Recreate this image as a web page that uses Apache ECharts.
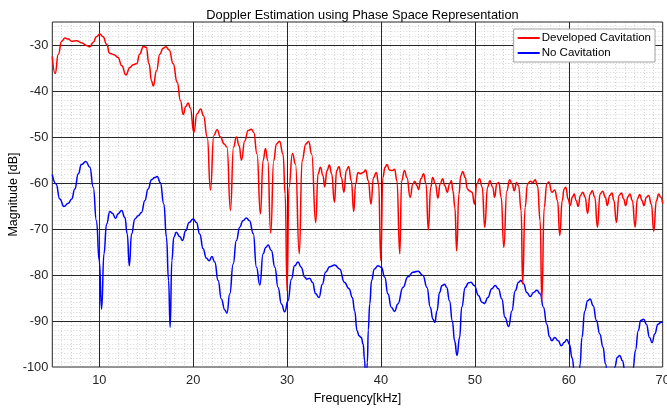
<!DOCTYPE html>
<html>
<head>
<meta charset="utf-8">
<script src="https://cdn.jsdelivr.net/npm/echarts@6/dist/echarts.min.js"></script>
<style>html,body{margin:0;padding:0;background:#fff}#c{width:667px;height:408px}</style>
</head>
<body>
<div id="c"></div>
<script>
const titleText = 'Doppler Estimation using Phase Space Representation';
const xName = 'Frequency[kHz]';
const yName = 'Magnitude [dB]';
const seriesNames = ['Developed Cavitation', 'No Cavitation'];

const redFreq = [5.0,5.3,5.64,6.0,6.35,6.7,7.06,7.6,8.1,8.65,9.0,9.36,9.7,10.07,10.4,10.8,11.1,11.56,12.0,12.4,12.84,13.26,13.6,14.0,14.3,14.7,15.0,15.3,15.57,15.75,16.1,16.45,16.8,17.1,17.45,17.87,18.3,18.65,18.94,19.2,19.47,19.7,20.07,20.4,20.8,21.1,21.5,21.84,22.2,22.55,22.9,23.3,23.6,23.97,24.3,24.6,24.9,25.14,25.5,25.85,26.2,26.45,26.8,27.16,27.45,27.7,27.94,28.26,28.58,28.87,29.2,29.57,29.8,30.0,30.2,30.57,30.9,31.3,31.6,32.0,32.3,32.62,33.05,33.3,33.55,33.83,34.0,34.26,34.5,34.75,35.04,35.28,35.53,35.78,36.06,36.3,36.56,36.84,37.1,37.3,37.55,37.8,38.1,38.37,38.65,38.94,39.2,39.5,39.75,39.98,40.2,40.43,40.64,40.9,41.2,41.45,41.7,42.0,42.2,42.5,42.77,43.1,43.4,43.6,43.83,44.0,44.25,44.54,44.8,45.04,45.3,45.5,45.8,46.06,46.3,46.56,46.8,47.06,47.3,47.5,47.66,47.87,48.06,48.3,48.5,48.7,48.97,49.2,49.4,49.7,49.96,50.2,50.5,50.78,51.05,51.35,51.6,51.9,52.1,52.34,52.55,52.8,53.08,53.4,53.7,53.97,54.2,54.43,54.65,54.93,55.08,55.35,55.6,55.9,56.17,56.42,56.67,56.95,57.13,57.38,57.66,57.87,58.2,58.5,58.8,59.04,59.3,59.5,59.68,59.93,60.14,60.4,60.57,60.78,61.0,61.24,61.5,61.74,62.0,62.27,62.5,62.77,63.05,63.33,63.6,63.9,64.1,64.36,64.6,64.8,65.07,65.35,65.6,65.85,66.06,66.3,66.5,66.77,67.06,67.3,67.55,67.8,68.0,68.26,68.5,68.8,69.04,69.33,69.57,69.8,70.0];
const redMag = [-32.5,-36.2,-32,-29.2,-28.5,-28.7,-29.2,-29.1,-29.5,-30.1,-30.4,-29.4,-28.2,-27.6,-28.2,-29.9,-31.8,-32.1,-32.7,-34.5,-36.5,-34.9,-34.3,-34,-32,-30.3,-30.5,-34.1,-37.8,-38.9,-35.6,-32,-30.7,-30.4,-31.1,-34.1,-38.1,-42.1,-45.1,-43.4,-42.6,-43.7,-49,-45,-43.9,-45.4,-50,-61.5,-49.7,-48.4,-50,-51.5,-52.2,-65.9,-52.2,-50,-51.9,-55,-50.8,-48.6,-48.3,-49,-53.7,-66.7,-55.1,-52.5,-55.1,-70.9,-55.1,-51.5,-50.9,-53.7,-62.4,-83.5,-61,-53.6,-55.9,-75.4,-55.1,-51.5,-51,-53.7,-68.6,-58,-56.6,-58.4,-60.8,-57.3,-56.1,-58,-64.2,-57.3,-56.4,-58.8,-62,-57.3,-56.4,-59.5,-66.2,-60.2,-57.7,-58,-57.7,-57.2,-59.5,-64.6,-58.8,-57.7,-60.2,-76.9,-58.8,-56.6,-56,-57.2,-57.3,-57,-59.5,-75.4,-59.5,-57.3,-58.8,-63.1,-60.2,-59.6,-60.6,-61.4,-59.1,-58,-60.2,-70.2,-60.9,-58.8,-60.2,-63.3,-60.2,-59.1,-60.6,-62,-60.2,-59.5,-61.7,-65.3,-74.8,-62.4,-58.4,-57.5,-58.8,-61.3,-61.7,-62,-64.6,-60.2,-59.1,-60.9,-69.6,-60.9,-59.5,-60.9,-63.1,-60.1,-59.9,-63.1,-74,-61.7,-59.3,-60.2,-61.7,-59.9,-60.6,-66,-82,-65.3,-60.2,-59.6,-59.9,-59.3,-60.6,-68.2,-85.6,-65.3,-60.2,-59.8,-62,-61.5,-63.8,-71.4,-63.8,-61.3,-60.9,-63.5,-64.9,-63,-62.4,-63.8,-65.1,-62.7,-62,-63.1,-66.6,-62.4,-61.7,-63.1,-69.6,-62.4,-61.8,-63.1,-64.9,-62.7,-62.2,-63.8,-68.6,-62.7,-62.2,-63.5,-64.9,-63,-62.4,-63.8,-69.6,-63.5,-62.5,-63.8,-64.9,-63.1,-62.7,-64.6,-70.5,-63.8,-62.4,-63.1,-64.5];

const blueFreq = [5.0,5.4,5.8,6.24,6.7,7.06,7.4,7.77,8.1,8.58,9.0,9.36,9.7,10.0,10.25,10.5,10.78,11.13,11.4,11.74,12.0,12.38,12.73,12.98,13.2,13.44,13.8,14.15,14.5,14.86,15.2,15.57,15.9,16.17,16.5,16.88,17.16,17.38,17.55,17.73,17.94,18.2,18.58,18.87,19.2,19.57,20.0,20.35,20.7,21.06,21.4,21.7,22.0,22.3,22.66,23.0,23.37,23.6,23.9,24.26,24.6,24.96,25.3,25.67,26.0,26.4,26.74,27.1,27.45,27.73,27.98,28.33,28.7,29.04,29.4,29.75,30.1,30.46,30.8,31.17,31.5,31.88,32.1,32.4,32.7,33.05,33.4,33.76,34.1,34.54,35.07,35.6,36.1,36.6,36.95,37.2,37.45,37.66,37.9,38.1,38.26,38.34,38.42,38.55,38.65,38.8,39.0,39.3,39.68,40.04,40.4,40.74,41.1,41.45,41.8,42.34,42.87,43.4,43.94,44.47,44.9,45.25,45.53,45.74,45.96,46.24,46.5,46.77,47.0,47.3,47.6,47.84,48.1,48.37,48.6,48.97,49.33,49.57,49.93,50.4,50.74,51.03,51.38,51.8,52.16,52.5,52.87,53.2,53.6,53.94,54.3,54.65,54.9,55.18,55.53,55.9,56.24,56.6,56.95,57.3,57.66,57.94,58.2,58.5,58.87,59.2,59.5,59.8,60.07,60.35,60.64,60.85,61.05,61.2,61.4,61.7,62.0,62.27,62.6,62.94,63.3,63.65,63.9,64.2,64.6,64.9,65.18,65.43,65.7,66.0,66.4,66.84,67.1,67.4,67.66,67.98,68.26,68.6,68.87,69.15,69.5,69.8,70.0];
const blueMag = [-58.2,-60.2,-63.5,-65.1,-64.4,-63.5,-61.3,-58,-56,-55.3,-56.6,-60.9,-68.2,-76.9,-87.4,-75.4,-68.9,-66.2,-66.6,-67.7,-66.7,-66,-67.5,-71.1,-78,-71.1,-67.8,-67.1,-66.4,-63.8,-61.3,-59.3,-58.8,-58.6,-59.9,-64.6,-71.8,-81.2,-91.4,-76.9,-71.8,-70.7,-71.7,-72.5,-70.4,-68.6,-67.8,-68.6,-71.1,-74.3,-76.3,-76.9,-76,-77.2,-81.2,-85.2,-87.6,-88.3,-84.1,-77.6,-72.5,-69.6,-68.2,-67.6,-68.2,-71,-78.3,-82.2,-75.4,-74,-73.5,-74.7,-78.3,-82.7,-86.3,-88,-85.6,-80.9,-78,-77.2,-78.3,-80.5,-80.9,-80.7,-81.6,-84.1,-84.9,-82,-79.4,-78.2,-77.8,-78.7,-81.6,-83,-84.9,-87.8,-92.1,-93.2,-93.6,-95,-98.6,-101.5,-104,-99,-92,-86.3,-81.2,-78.7,-78,-78.3,-80.5,-84.1,-87,-87.9,-86.3,-82.7,-80.4,-79.4,-79.2,-80.1,-82.7,-87,-89.6,-90.3,-87.8,-83.8,-82.3,-82,-82.7,-85.6,-90,-94.3,-97.5,-93.6,-87,-82.7,-81.7,-81.6,-82.3,-84.5,-85.9,-86.2,-84.9,-83,-82.3,-83,-85.2,-89.2,-91.2,-87.8,-83.4,-81.6,-81.2,-81.9,-83.8,-84.7,-83.8,-83.3,-84.1,-87,-90.7,-93.4,-94.3,-93.6,-94.3,-95.4,-94.7,-94,-95.1,-98,-102,-106,-103,-99.5,-93.6,-87.8,-85.6,-85.2,-86.7,-89.9,-92.8,-95.7,-99.3,-103,-104,-100,-97.9,-97.5,-98.6,-101,-104,-100.4,-96.4,-92.1,-89.9,-89.6,-90.7,-93.6,-94.7,-92.8,-90.7,-90.3,-90.2];

const xMin = 5, xMax = 70, yMin = -100, yMax = -25;

function pairs(xs, ys) { return xs.map((x, i) => [x, ys[i]]); }

const FONT = 'Liberation Sans, Arial, sans-serif';
const MINOR = '#d6d6d6';
const NONE = 'rgba(0,0,0,0)';
const MAJOR = '#262626';
const minorXColors = [MINOR, MINOR, MINOR, MINOR, NONE, MINOR, MINOR, MINOR, MINOR, MINOR];
const minorYColors = [MINOR, MINOR, MINOR, MINOR, MINOR, MINOR, MINOR, MINOR, MINOR, NONE];

const chart = echarts.init(document.getElementById('c'), null, {renderer: 'canvas'});
chart.setOption({
  animation: false,
  backgroundColor: '#fff',
  title: {
    text: titleText, left: 357.5, top: 4, textAlign: 'center',
    textStyle: {fontFamily: FONT, fontSize: 12.8, fontWeight: 'normal', color: '#000'}
  },
  legend: {
    orient: 'vertical', right: 12, top: 29, z: 10,
    padding: [2, 4, 2, 4], itemGap: 1, itemWidth: 22, itemHeight: 2, icon: 'rect',
    backgroundColor: '#fff', borderColor: '#a0a0a0', borderWidth: 1, borderRadius: 0,
    textStyle: {fontFamily: FONT, fontSize: 11.5, color: '#000', padding: [0,0,0,-3], lineHeight: 14},
    data: seriesNames
  },
  grid: {left: 52.3, right: 4.3, top: 22, bottom: 41, show: true, borderColor: MAJOR, borderWidth: 1, z: 1,
         backgroundColor: 'transparent', containLabel: false, outerBoundsMode: 'none'},
  xAxis: [
    {type: 'value', min: xMin, max: xMax, interval: 1, z: 0, axisLine: {show: false}, axisTick: {show: false}, axisLabel: {show: false},
     splitLine: {show: true, showMinLine: false, showMaxLine: false, lineStyle: {color: minorXColors, type: [1, 2], width: 1}}},
    {type: 'value', min: xMin, max: xMax, interval: 5, position: 'bottom', z: 1,
     name: xName, nameLocation: 'middle', nameGap: 25, nameMoveOverlap: false,
     nameTextStyle: {fontFamily: FONT, fontSize: 12.5, color: '#000'},
     axisLine: {show: false}, axisTick: {show: false},
     axisLabel: {fontFamily: FONT, fontSize: 12.8, color: MAJOR, margin: 7, formatter: v => (v % 10 === 0 ? String(v) : '')},
     splitLine: {show: true, showMinLine: false, showMaxLine: false, lineStyle: {color: [MAJOR, NONE], width: 1}}}
  ],
  yAxis: [
    {type: 'value', min: yMin, max: yMax, interval: 1, z: 0, axisLine: {show: false}, axisTick: {show: false}, axisLabel: {show: false},
     splitLine: {show: true, showMinLine: false, showMaxLine: false, lineStyle: {color: minorYColors, type: [1, 2], width: 1}}},
    {type: 'value', min: yMin, max: yMax, interval: 10, position: 'left', z: 1,
     name: yName, nameLocation: 'middle', nameGap: 32, nameRotate: 90, nameMoveOverlap: false,
     nameTextStyle: {fontFamily: FONT, fontSize: 12.5, color: '#000'},
     axisLine: {show: false}, axisTick: {show: false},
     axisLabel: {fontFamily: FONT, fontSize: 12.8, color: MAJOR, margin: 4, showMaxLabel: false},
     splitLine: {show: true, showMinLine: false, showMaxLine: false, lineStyle: {color: MAJOR, width: 1}}}
  ],
  series: [
    {name: seriesNames[0], type: 'line', xAxisIndex: 1, yAxisIndex: 1, data: pairs(redFreq, redMag),
     showSymbol: false, symbol: 'none', smooth: 0.5, smoothMonotone: 'x', clip: true, z: 3,
     lineStyle: {color: '#ff0000', width: 1.5}, itemStyle: {color: '#ff0000'}},
    {name: seriesNames[1], type: 'line', xAxisIndex: 1, yAxisIndex: 1, data: pairs(blueFreq, blueMag),
     showSymbol: false, symbol: 'none', smooth: 0.5, smoothMonotone: 'x', clip: true, z: 2,
     lineStyle: {color: '#0000ff', width: 1.5}, itemStyle: {color: '#0000ff'}}
  ]
});
</script>
</body>
</html>
